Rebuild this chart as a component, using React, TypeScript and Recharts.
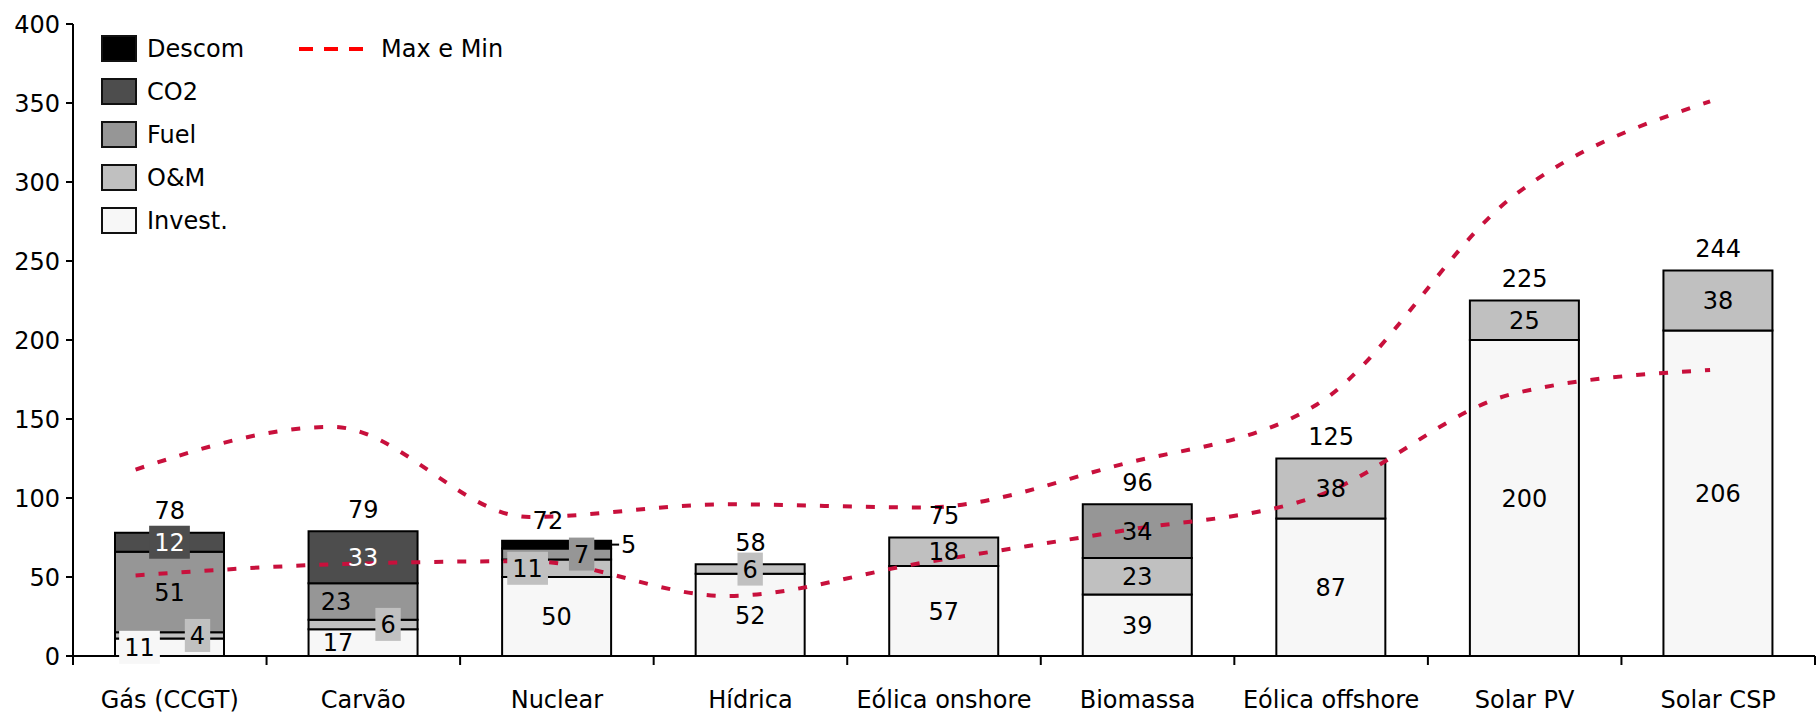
import { ComposedChart, Bar, Line, XAxis, YAxis, LabelList } from "recharts";

const categories = [
  "Gás (CCGT)",
  "Carvão",
  "Nuclear",
  "Hídrica",
  "Eólica onshore",
  "Biomassa",
  "Eólica offshore",
  "Solar PV",
  "Solar CSP",
];
const invest = [11, 17, 50, 52, 57, 39, 87, 200, 206];
const om = [4, 6, 11, 6, 18, 23, 38, 25, 38];
const fuel = [51, 23, 7, 0, 0, 34, 0, 0, 0];
const co2 = [12, 33, 0, 0, 0, 0, 0, 0, 0];
const descom = [0, 0, 5, 0, 0, 0, 0, 0, 0];
const totals = [78, 79, 72, 58, 75, 96, 125, 225, 244];
const maxCost = [118, 145, 88, 96, 94, 121, 159, 291, 351];
const minCost = [51, 58, 60, 38, 59, 79, 101, 166, 181];
const yTicks = [0, 50, 100, 150, 200, 250, 300, 350, 400];

const W = 1818;
const H = 716;
const LEFT = 73;
const RIGHT = 3;
const TOP = 24;
const X_AXIS_H = 60;
const PLOT_BOTTOM = H - X_AXIS_H;
const BAND = (W - LEFT - RIGHT) / categories.length;
const FONT = "'DejaVu Sans', sans-serif";
const FS = 24;
const RED = "#c8103c";

const series = [
  { key: "invest", name: "Invest.", fill: "#f7f7f7", text: "#000" },
  { key: "om", name: "O&M", fill: "#c0c0c0", text: "#000" },
  { key: "fuel", name: "Fuel", fill: "#969696", text: "#000" },
  { key: "co2", name: "CO2", fill: "#4d4d4d", text: "#fff" },
  { key: "descom", name: "Descom", fill: "#000000", text: "#000" },
];

// Excel label tweaks: horizontal nudge, and whether the label has a filled box
const nudge: Record<string, number> = {
  "invest-0": -30,
  "om-0": 28,
  "invest-1": -25,
  "om-1": 25,
  "fuel-1": -27,
  "om-2": -29,
  "fuel-2": 25,
};
const boxed = new Set(["invest-0", "om-0", "co2-0", "om-1", "om-2", "fuel-2", "om-3"]);

const data = categories.map((name, i) => ({
  name,
  idx: i,
  invest: invest[i] || null,
  om: om[i] || null,
  fuel: fuel[i] || null,
  co2: co2[i] || null,
  descom: descom[i] || null,
  total: totals[i],
  max: maxCost[i],
  min: minCost[i],
}));

function SegLabel(props: any) {
  const { x, y, width, height, value, index, s } = props;
  if (!value) return null;
  const cy = y + height / 2;
  if (s.key === "descom") {
    const ex = x + width;
    return (
      <g>
        <line x1={ex} x2={ex + 8} y1={cy} y2={cy} stroke="#000" strokeWidth={2} />
        <text x={ex + 10} y={cy} dy="0.36em" fontFamily={FONT} fontSize={FS} fill="#000">
          {value}
        </text>
      </g>
    );
  }
  const id = `${s.key}-${index}`;
  const cx = x + width / 2 + (nudge[id] ?? 0);
  const tw = String(value).length * FS * 0.64 + 10;
  const th = 33;
  return (
    <g>
      {boxed.has(id) && <rect x={cx - tw / 2} y={cy - th / 2} width={tw} height={th} fill={s.fill} />}
      <text x={cx} y={cy} dy="0.36em" textAnchor="middle" fontFamily={FONT} fontSize={FS} fill={s.text}>
        {value}
      </text>
    </g>
  );
}

function TotalLabel(props: any) {
  const { x, y, value, index } = props;
  const dx = index === 2 ? -9 : 0;
  return (
    <text x={x + dx} y={y - 22} dy="0.36em" textAnchor="middle" fontFamily={FONT} fontSize={FS} fill="#000">
      {value}
    </text>
  );
}

function CatTick(props: any) {
  const { x, payload, index } = props;
  const left = x - BAND / 2;
  return (
    <g>
      <line x1={left} x2={left} y1={PLOT_BOTTOM} y2={PLOT_BOTTOM + 9} stroke="#000" strokeWidth={2} />
      {index === categories.length - 1 && (
        <line x1={x + BAND / 2} x2={x + BAND / 2} y1={PLOT_BOTTOM} y2={PLOT_BOTTOM + 9} stroke="#000" strokeWidth={2} />
      )}
      <text x={x} y={PLOT_BOTTOM + 43} dy="0.36em" textAnchor="middle" fontFamily={FONT} fontSize={FS} fill="#000">
        {payload.value}
      </text>
    </g>
  );
}

function LegendBox() {
  const rows = [...series].reverse();
  return (
    <div
      style={{
        position: "absolute",
        left: 101,
        top: 34,
        fontFamily: FONT,
        fontSize: FS,
        color: "#000",
        pointerEvents: "none",
      }}
    >
      {rows.map((s, i) => (
        <div
          key={s.key}
          style={{ position: "absolute", left: 0, top: i * 43, display: "flex", alignItems: "center", height: 29 }}
        >
          <div
            style={{
              width: 36,
              height: 27,
              background: s.fill,
              border: "2px solid #111",
              boxSizing: "border-box",
            }}
          />
          <span style={{ marginLeft: 10, whiteSpace: "nowrap" }}>{s.name}</span>
        </div>
      ))}
      <div style={{ position: "absolute", left: 198, top: 0, display: "flex", alignItems: "center", height: 29 }}>
        <svg width={66} height={6}>
          <line x1={0} x2={66} y1={3} y2={3} stroke="#ff0000" strokeWidth={4} strokeDasharray="14 11" />
        </svg>
        <span style={{ marginLeft: 16, whiteSpace: "nowrap" }}>Max e Min</span>
      </div>
    </div>
  );
}

export default function App() {
  return (
    <div style={{ position: "absolute", left: 0, top: 0, width: W, height: H, background: "#fff" }}>
      <ComposedChart width={W} height={H} data={data} margin={{ top: TOP, right: RIGHT, bottom: 0, left: 0 }}>
        <XAxis
          xAxisId="cat"
          dataKey="name"
          height={X_AXIS_H}
          axisLine={{ stroke: "#000", strokeWidth: 2 }}
          tickLine={false}
          tick={<CatTick />}
          interval={0}
        />
        <XAxis xAxisId="line" dataKey="idx" type="number" domain={[-0.318, 8.533]} hide />
        <YAxis
          width={LEFT}
          domain={[0, 400]}
          ticks={yTicks}
          interval={0}
          axisLine={{ stroke: "#000", strokeWidth: 2 }}
          tickLine={{ stroke: "#000", strokeWidth: 2 }}
          tickSize={7}
          tickMargin={6}
          tick={{ fontFamily: FONT, fontSize: FS, fill: "#000" }}
        />
        {series.map((s) => (
          <Bar
            key={s.key}
            xAxisId="cat"
            dataKey={s.key}
            name={s.name}
            stackId="a"
            fill={s.fill}
            stroke="#000"
            strokeWidth={2}
            barSize={109}
            isAnimationActive={false}
          >
            <LabelList dataKey={s.key} content={(p: any) => <SegLabel {...p} s={s} />} />
          </Bar>
        ))}
        <Line
          xAxisId="cat"
          dataKey="total"
          stroke="none"
          dot={false}
          activeDot={false}
          legendType="none"
          isAnimationActive={false}
        >
          <LabelList dataKey="total" content={<TotalLabel />} />
        </Line>
        <Line
          xAxisId="line"
          dataKey="max"
          type="monotone"
          stroke={RED}
          strokeWidth={4}
          strokeDasharray="9 14"
          dot={false}
          activeDot={false}
          isAnimationActive={false}
        />
        <Line
          xAxisId="line"
          dataKey="min"
          type="monotone"
          stroke={RED}
          strokeWidth={4}
          strokeDasharray="9 14"
          dot={false}
          activeDot={false}
          isAnimationActive={false}
        />
      </ComposedChart>
      <LegendBox />
    </div>
  );
}
